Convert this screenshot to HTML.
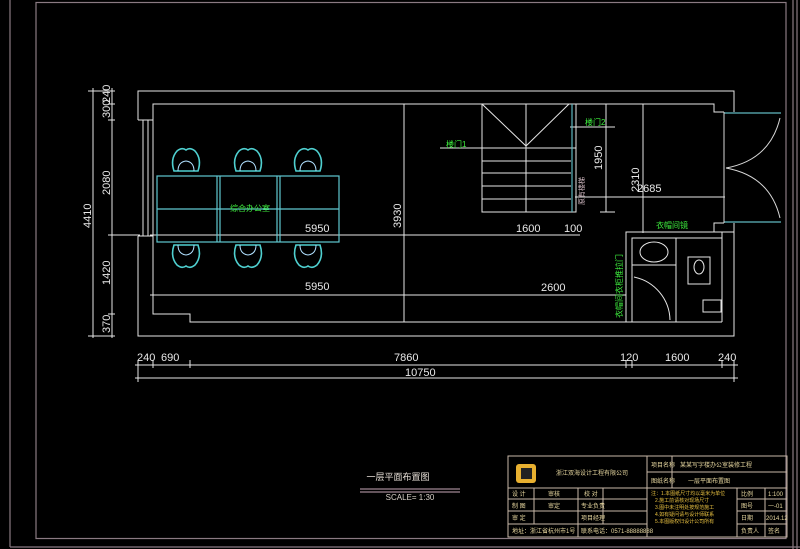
<!DOCTYPE html>
<html><head><meta charset="utf-8"><style>
html,body{margin:0;padding:0;background:#000;}
svg{display:block}
text{font-family:"Liberation Sans","Noto Sans CJK SC",sans-serif;}
</style></head><body>
<svg width="800" height="549" viewBox="0 0 800 549" xmlns="http://www.w3.org/2000/svg">
<defs>
<g id="ct" fill="none" stroke="#4fd0d0" stroke-width="1.6"><path d="M-12,14 Q-16,2 -9,-6 Q-4,-10 0,-7 Q4,-10 9,-6 Q16,2 12,14 Z"/><path d="M-8,14 Q-8,5 0,4 Q8,5 8,14" stroke="#b0e0ff" stroke-width="1"/></g>
<g id="cb" fill="none" stroke="#4fd0d0" stroke-width="1.6"><path d="M-12,-14 Q-16,-2 -9,6 Q-4,10 0,7 Q4,10 9,6 Q16,-2 12,-14 Z"/><path d="M-8,-14 Q-8,-5 0,-4 Q8,-5 8,-14" stroke="#b0e0ff" stroke-width="1"/></g>
</defs>
<rect width="800" height="549" fill="#000"/>
<g fill="none" stroke="#8a7a82" stroke-width="1.2">
<rect x="36" y="2.5" width="750" height="536"/>
<line x1="10" y1="0" x2="10" y2="547"/>
<line x1="10" y1="547" x2="800" y2="547"/>
<line x1="793" y1="0" x2="793" y2="549"/>
<line x1="797" y1="0" x2="797" y2="549"/>
</g>
<g fill="none" stroke="#e6e6e6" stroke-width="1">
<polyline points="138,120 138,91 734,91 734,112"/>
<polyline points="734,223 734,336 138,336 138,236"/>
<polyline points="153,236 153,104 714,104 714,112 724,112"/>
<polyline points="724,223 714,223 714,232"/>
<polyline points="153,236 153,314 190,314 190,322 722,322"/>
<line x1="138" y1="120" x2="153" y2="120"/>
<line x1="138" y1="236" x2="153" y2="236"/>
<line x1="143" y1="120" x2="143" y2="236"/>
<line x1="148" y1="120" x2="148" y2="236"/>
<line x1="150" y1="235" x2="580" y2="235"/>
<line x1="150" y1="295" x2="626" y2="295"/>
<line x1="404" y1="104" x2="404" y2="322"/>
<line x1="606" y1="104" x2="606" y2="212"/>
<line x1="643" y1="104" x2="643" y2="233"/>
<line x1="575" y1="197" x2="725" y2="197"/>
<line x1="600" y1="212" x2="615" y2="212"/>
<rect x="482" y="104" width="94" height="108"/>
<line x1="526" y1="104" x2="526" y2="212"/>
<line x1="482" y1="161" x2="571" y2="161"/>
<line x1="482" y1="173" x2="571" y2="173"/>
<line x1="482" y1="186" x2="571" y2="186"/>
<line x1="482" y1="199" x2="571" y2="199"/>
<polyline points="482,104 526,146 569,104"/>
<line x1="440" y1="148" x2="576" y2="148"/>
<line x1="570" y1="127" x2="615" y2="127"/>
<line x1="93" y1="88" x2="93" y2="338"/>
<line x1="112" y1="88" x2="112" y2="338"/>
<line x1="88" y1="91" x2="115" y2="91"/>
<line x1="108" y1="104" x2="115" y2="104"/>
<line x1="108" y1="120" x2="115" y2="120"/>
<line x1="108" y1="235" x2="140" y2="235"/>
<line x1="108" y1="314" x2="115" y2="314"/>
<line x1="88" y1="336" x2="115" y2="336"/>
<line x1="135" y1="365" x2="738" y2="365"/>
<line x1="135" y1="378" x2="738" y2="378"/>
<line x1="138" y1="360" x2="138" y2="382"/>
<line x1="153" y1="360" x2="153" y2="368"/>
<line x1="190" y1="360" x2="190" y2="368"/>
<line x1="626" y1="360" x2="626" y2="368"/>
<line x1="632" y1="360" x2="632" y2="368"/>
<line x1="722" y1="360" x2="722" y2="368"/>
<line x1="734" y1="360" x2="734" y2="382"/>
<polyline points="626,322 626,232 722,232 722,322"/>
<rect x="632" y="238" width="44" height="84"/>
<line x1="676" y1="238" x2="722" y2="238"/>
<line x1="632" y1="265" x2="676" y2="265"/>
<line x1="676" y1="238" x2="676" y2="322"/>
<path d="M634,277 A45,45 0 0 1 670,320" />
<ellipse cx="654" cy="252" rx="14" ry="10"/>
<rect x="688" y="257" width="22" height="27"/>
<ellipse cx="699" cy="267" rx="5" ry="7"/>
<rect x="703" y="300" width="18" height="12"/>
<line x1="722" y1="232" x2="734" y2="232"/>
</g>
<g fill="none" stroke="#5fb8c0" stroke-width="1.2">
<line x1="724" y1="113" x2="781" y2="113"/>
<line x1="724" y1="222" x2="781" y2="222"/>
<line x1="572" y1="104" x2="572" y2="212"/>
</g>
<g fill="none" stroke="#d8d8d8" stroke-width="1">
<line x1="724" y1="112" x2="724" y2="223"/>
<path d="M726,168 Q770,160 780,118"/>
<path d="M726,168 Q770,176 780,218"/>
</g>
<g fill="none" stroke="#5fc8d0" stroke-width="1.2">
<rect x="157" y="176" width="182" height="66"/>
<line x1="217" y1="176" x2="217" y2="242"/>
<line x1="220" y1="176" x2="220" y2="242"/>
<line x1="277" y1="176" x2="277" y2="242"/>
<line x1="280" y1="176" x2="280" y2="242"/>
<line x1="157" y1="209" x2="339" y2="209"/>
</g>
<use href="#ct" x="186" y="157"/><use href="#ct" x="248" y="157"/><use href="#ct" x="308" y="157"/>
<use href="#cb" x="186" y="259"/><use href="#cb" x="248" y="259"/><use href="#cb" x="308" y="259"/>
<g fill="#e8e8e8" font-size="11">
<text x="305" y="232">5950</text>
<text x="305" y="290">5950</text>
<text x="516" y="232">1600</text>
<text x="564" y="232">100</text>
<text x="541" y="291">2600</text>
<text x="637" y="192">2685</text>
<text transform="translate(401,228) rotate(-90)">3930</text>
<text transform="translate(602,170) rotate(-90)">1950</text>
<text transform="translate(639,192) rotate(-90)">2310</text>
<text transform="translate(110,195) rotate(-90)">2080</text>
<text transform="translate(110,285) rotate(-90)">1420</text>
<text transform="translate(110,333) rotate(-90)">370</text>
<text transform="translate(110,118) rotate(-90)">300</text>
<text transform="translate(110,103) rotate(-90)">240</text>
<text transform="translate(91,228) rotate(-90)">4410</text>
<text x="137" y="361">240</text>
<text x="161" y="361">690</text>
<text x="394" y="361">7860</text>
<text x="620" y="361">120</text>
<text x="665" y="361">1600</text>
<text x="718" y="361">240</text>
<text x="405" y="376">10750</text>
</g>
<g fill="#3ef03e" font-size="8">
<text x="230" y="211">综合办公室</text>
<text x="446" y="147">楼门1</text>
<text x="585" y="125">楼门2</text>
<text x="656" y="228">衣帽间镜</text>
<text transform="translate(622,318) rotate(-90)">衣帽间衣柜推拉门</text>
</g>
<g fill="#d0b8c0" font-size="7"><text transform="translate(584,205) rotate(-90)">原有楼梯</text></g>
<text x="398" y="480" fill="#e8e0d8" font-size="9" text-anchor="middle">一层平面布置图</text>
<line x1="360" y1="489" x2="460" y2="489" stroke="#c8a8b8"/>
<line x1="360" y1="492" x2="460" y2="492" stroke="#c8a8b8"/>
<text x="410" y="500" fill="#d8d0c8" font-size="8" text-anchor="middle">SCALE= 1:30</text>
<g fill="none" stroke="#c8b8a8" stroke-width="1">
<rect x="508" y="456" width="279" height="81"/>
<line x1="508" y1="488" x2="787" y2="488"/>
<line x1="647" y1="472" x2="787" y2="472"/>
<line x1="508" y1="499" x2="647" y2="499"/>
<line x1="508" y1="511" x2="647" y2="511"/>
<line x1="508" y1="524" x2="647" y2="524"/>
<line x1="737" y1="499" x2="787" y2="499"/>
<line x1="737" y1="511" x2="787" y2="511"/>
<line x1="737" y1="524" x2="787" y2="524"/>
<line x1="647" y1="456" x2="647" y2="537"/>
<line x1="672" y1="456" x2="672" y2="488"/>
<line x1="737" y1="488" x2="737" y2="537"/>
<line x1="765" y1="488" x2="765" y2="537"/>
<line x1="534" y1="488" x2="534" y2="524"/>
<line x1="578" y1="488" x2="578" y2="537"/>
<line x1="603" y1="488" x2="603" y2="524"/>
</g>
<rect x="516" y="464" width="20" height="19" rx="3" fill="#e8b030"/>
<rect x="521" y="468" width="11" height="11" fill="#222"/>
<g fill="#e8d8a0" font-size="6">
<text x="556" y="475">浙江双海设计工程有限公司</text>
<text x="651" y="467">项目名称</text>
<text x="680" y="467">某某写字楼办公室装修工程</text>
<text x="651" y="483">图纸名称</text>
<text x="688" y="483">一层平面布置图</text>
<text x="512" y="496">设 计</text><text x="548" y="496">审核</text><text x="584" y="496">校 对</text>
<text x="512" y="508">制 图</text><text x="548" y="508">审定</text><text x="581" y="508">专业负责</text>
<text x="512" y="520">审 定</text><text x="581" y="520">项目经理</text>
<text x="512" y="533">地址：浙江省杭州市1号</text>
<text x="581" y="533">联系电话：0571-88888888</text>
<text x="741" y="496">比例</text><text x="768" y="496">1:100</text>
<text x="741" y="508">图号</text><text x="768" y="508">一-01</text>
<text x="741" y="520">日期</text><text x="766" y="520">2014.12</text>
<text x="741" y="533">负责人</text><text x="768" y="533">签名</text>
</g>
<g fill="#e8c040" font-size="5">
<text x="651" y="495">注：1.本图纸尺寸均以毫米为单位</text>
<text x="655" y="502">2.施工前请核对现场尺寸</text>
<text x="655" y="509">3.图中未注明处按规范施工</text>
<text x="655" y="516">4.如有疑问请与设计师联系</text>
<text x="655" y="523">5.本图版权归设计公司所有</text>
</g>
</svg>
</body></html>
